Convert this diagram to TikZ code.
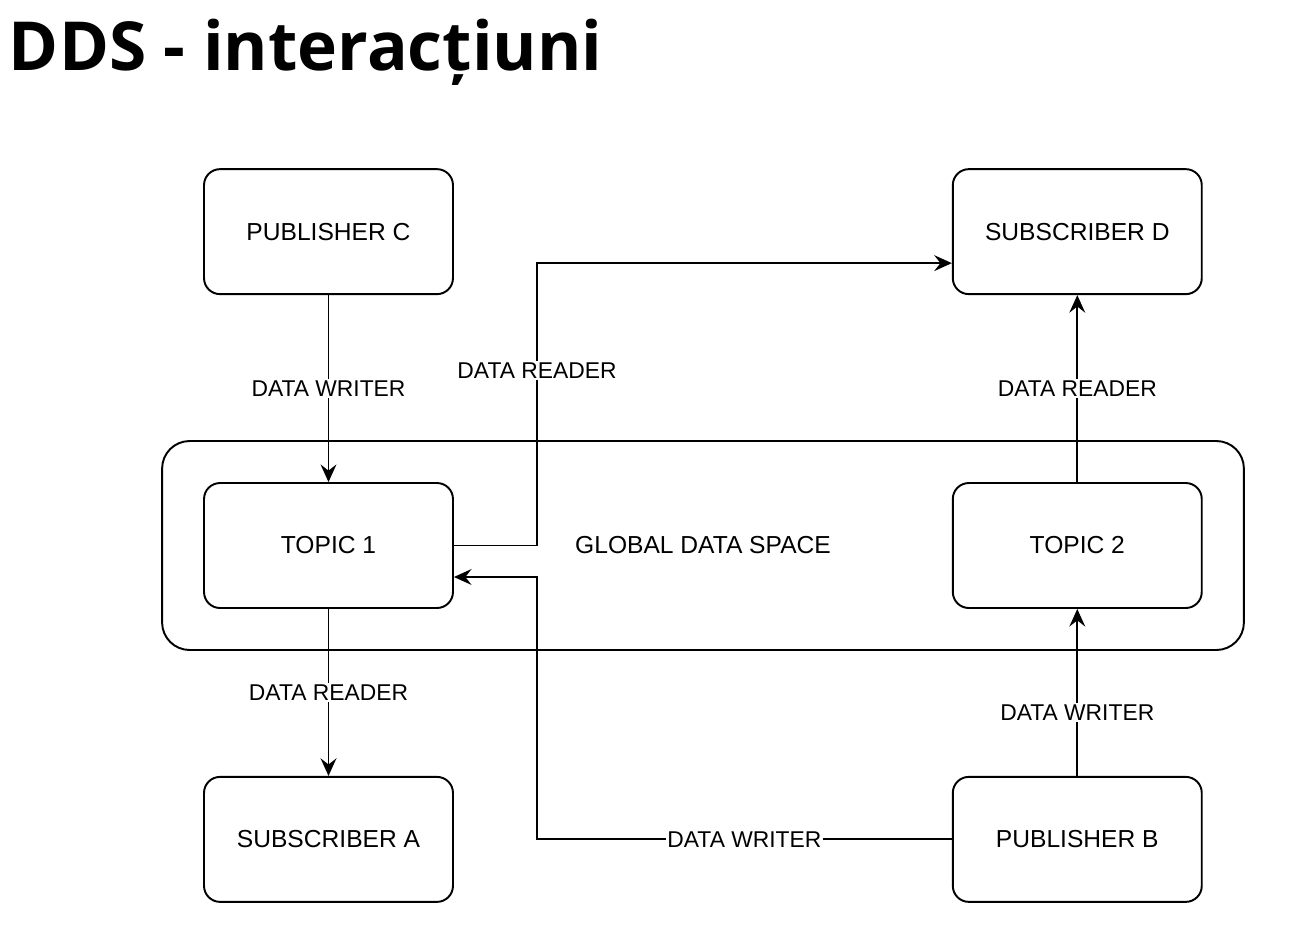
\documentclass[tikz,border=0pt]{standalone}
\usepackage{fontspec}
\setmainfont{Liberation Sans}
\newfontfamily\headfont{Open Sans}
\usetikzlibrary{arrows.meta,positioning}

\begin{document}
\begin{tikzpicture}[x=0.02cm,y=-0.02cm,line width=1.1pt,
      >={Stealth[length=10pt,width=9pt,inset=3.5pt]},
      box/.style={draw,rounded corners=0.32cm,minimum width=4.98cm,minimum height=2.5cm,align=center,font=\fontsize{14}{17}\selectfont},
      lbl/.style={fill=white,inner sep=1pt,font=\fontsize{13}{15}\selectfont}]
  \useasboundingbox (0,0) rectangle (1296,938);
  \node[anchor=base west,inner sep=0,font=\headfont\bfseries\fontsize{38.5}{46}\selectfont] (title) at (8,70) {DDS - interacțiuni};
  \node[draw,rounded corners=0.55cm,minimum width=21.64cm,minimum height=4.18cm,font=\fontsize{14}{17}\selectfont] (gds) at (703,545.5) {GLOBAL DATA SPACE};
  \node[box] (t1) at (328.5,545.5) {TOPIC 1};
  \node[box,right=9.96cm of t1] (t2) {TOPIC 2};
  \node[box,above=3.74cm of t1] (pc) {PUBLISHER C};
  \node[box,below=3.34cm of t1] (sa) {SUBSCRIBER A};
  \node[box,above=3.74cm of t2] (sd) {SUBSCRIBER D};
  \node[box,below=3.34cm of t2] (pb) {PUBLISHER B};
  \coordinate (bus) at (537,545);
  \coordinate (rdin) at ([yshift=-0.63cm]sd.west);
  \coordinate (wrin) at ([yshift=-0.63cm]t1.east);
  \draw[->] (pc) -- (t1) node[lbl,midway] {DATA WRITER};
  \draw[->] (t1) -- (sa) node[lbl,midway] {DATA READER};
  \draw[->] (pb) -- (t2) node[lbl,pos=0.38] {DATA WRITER};
  \draw[->] (t2) -- (sd) node[lbl,midway] {DATA READER};
  \draw[->] (t1.east) -- (t1.east -| bus) |- (rdin) node[lbl,pos=0.31] {DATA READER};
  \draw[->] (pb.west) -- (pb.west -| bus) node[lbl,midway] {DATA WRITER} |- (wrin);
\end{tikzpicture}
\end{document}
